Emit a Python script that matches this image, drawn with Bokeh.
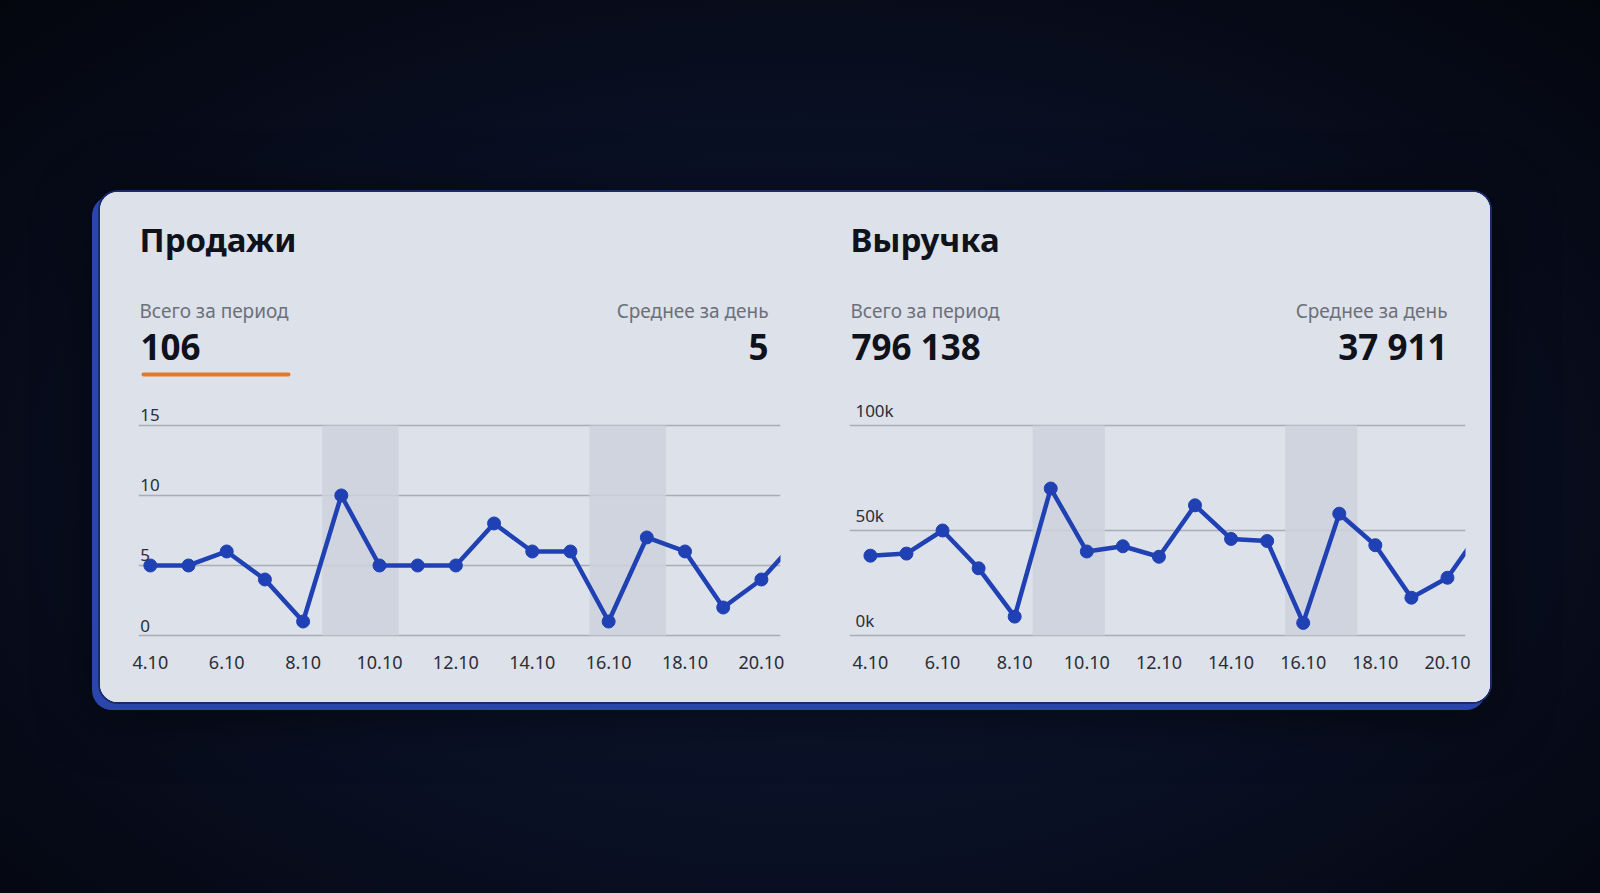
from bokeh.plotting import figure
from bokeh.models import (Label, BoxAnnotation, FixedTicker, Range1d, Spacer,
                          ColumnDataSource, GlobalInlineStyleSheet)
from bokeh.layouts import row, column
from bokeh.core.properties import value
from bokeh.embed import file_html
from bokeh.resources import INLINE

# ---------------- data ----------------
days = list(range(4, 22))                       # 4.10 ... 21.10
day_labels = [f"{d}.10" for d in days]
tick_days = days[:-1:2]                         # 4,6,...,20
sales = [5, 5, 6, 4, 1, 10, 5, 5, 5, 8, 6, 6, 1, 7, 6, 2, 4, 7]
revenue = [38000, 39000, 50000, 32000, 9000, 70000, 40000, 42500, 37500,
           62000, 46000, 45000, 6000, 58000, 43000, 18000, 27500, 52000]
weekend_start = [8.5, 15.5]
weekend_end = [10.5, 17.5]
sales_ticks = [0, 5, 10, 15]
sales_tick_labels = ["0", "5", "10", "15"]
rev_ticks = [0, 50000, 100000]
rev_tick_labels = ["0k", "50k", "100k"]

sales_title = "Продажи"
rev_title = "Выручка"
total_label = "Всего за период"
avg_label = "Среднее за день"
sales_total, sales_avg = "106", "5"
rev_total, rev_avg = "796 138", "37 911"

# ---------------- style ----------------
FONT = "Noto Sans"
CARD = "#dde1e9"
LINE = "#2041b4"
BAND = "#cdd1dc"
GRID = "#a9adb7"
DARK = "#0f121b"
GRAY = "#6c707b"
TICK = "#2b2e38"
HEADER_H = 208
CHART_H = 302


def header(width, mb_left, mb_right, title, total, avg, lx, right_x, underline=None):
    h = figure(width=width, height=HEADER_H,
               x_range=Range1d(mb_left, width - mb_right),
               y_range=Range1d(0, HEADER_H), toolbar_location=None,
               output_backend="svg", min_border_left=mb_left,
               min_border_right=mb_right, min_border_top=0, min_border_bottom=0)
    h.axis.visible = False
    h.grid.visible = False
    h.outline_line_color = None
    h.background_fill_color = CARD
    h.border_fill_color = CARD
    h.add_layout(Label(x=lx, y=161, text=title, text_font=FONT, text_font_style="bold",
                       text_font_size="33px", text_color=DARK, text_baseline="middle"))
    h.add_layout(Label(x=lx, y=90, text=total_label, text_font=FONT, text_font_size="19px",
                       text_color=GRAY, text_baseline="middle"))
    h.add_layout(Label(x=lx + 1, y=54, text=total, text_font=FONT, text_font_style="bold",
                       text_font_size="35px", text_color=DARK, text_baseline="middle"))
    h.add_layout(Label(x=right_x, y=90, text=avg_label, text_font=FONT, text_font_size="19px",
                       text_color=GRAY, text_baseline="middle", text_align="right"))
    h.add_layout(Label(x=right_x, y=54, text=avg, text_font=FONT, text_font_style="bold",
                       text_font_size="35px", text_color=DARK, text_baseline="middle",
                       text_align="right"))
    if underline:
        h.add_layout(BoxAnnotation(left=underline[0], right=underline[1], bottom=24, top=28,
                                   fill_color="#e5792b", fill_alpha=1, line_color=None,
                                   border_radius=2))
    return h


def chart(width, values, ticks, tick_labels, x_start, y_start, y_end, band_top,
          mb_left, mb_right, label_off):
    p = figure(width=width, height=CHART_H, toolbar_location=None, output_backend="svg",
               x_range=Range1d(x_start, 20.5), y_range=Range1d(y_start, y_end),
               min_border_left=mb_left, min_border_right=mb_right,
               min_border_top=0, min_border_bottom=65, y_axis_location=None)
    p.background_fill_color = CARD
    p.border_fill_color = CARD
    p.outline_line_color = None
    p.xgrid.visible = False
    p.ygrid.ticker = FixedTicker(ticks=ticks)
    p.ygrid.grid_line_color = GRID
    p.ygrid.grid_line_width = 1.5

    p.quad(left=weekend_start, right=weekend_end, bottom=0, top=band_top,
           fill_color=BAND, fill_alpha=0.85, line_color=None)

    src = ColumnDataSource(dict(x=days, y=values))
    p.line("x", "y", source=src, line_color=LINE, line_width=4.5, line_join="round")
    p.scatter("x", "y", source=src, size=13, fill_color=LINE, line_color=LINE)

    tsrc = ColumnDataSource(dict(x=[days[0]] * len(ticks), y=ticks, t=tick_labels))
    p.text("x", "y", text="t", source=tsrc, x_offset=label_off, y_offset=-4,
           text_baseline="bottom", text_align="left", text_font=value(FONT),
           text_font_size="17px", text_color=TICK)

    ax = p.xaxis[0]
    ax.ticker = FixedTicker(ticks=tick_days)
    ax.major_label_overrides = {d: day_labels[days.index(d)] for d in tick_days}
    ax.axis_line_color = None
    ax.major_tick_line_color = None
    ax.minor_tick_line_color = None
    ax.major_tick_out = 0
    ax.major_tick_in = 0
    ax.major_label_standoff = 18
    ax.major_label_text_font = FONT
    ax.major_label_text_font_size = "18px"
    ax.major_label_text_color = TICK
    return p


# left (sales): figure page x 100..815, frame 138..780
hL = header(715, 38, 35, sales_title, sales_total, sales_avg, 39, 668, underline=(41, 190))
cL = chart(715, sales, sales_ticks, sales_tick_labels,
           x_start=3.69, y_start=-0.142, y_end=16.78, band_top=15,
           mb_left=38, mb_right=35, label_off=-10)
# right (revenue): figure page x 815..1490, frame 849..1465
hR = header(675, 34, 25, rev_title, rev_total, rev_avg, 35, 632)
cR = chart(675, revenue, rev_ticks, rev_tick_labels,
           x_start=3.42, y_start=-952, y_end=111905, band_top=100000,
           mb_left=34, mb_right=25, label_off=-15)

card = row(column(hL, cL, styles={"background": CARD}),
           column(hR, cR, styles={"background": CARD}),
           styles={"border-radius": "18px", "overflow": "hidden", "background": CARD,
                   "box-shadow": "0 0 0 2px #1c2a6c, -6px 6px 0 2px #2a46ad, 0 10px 60px rgba(0,0,0,0.6)"})

root = column(Spacer(height=192, width=10), row(Spacer(width=100, height=10), card),
              width=1600, height=893,
              styles={"background": "radial-gradient(ellipse at 50% 55%, #111a36 0%, #0a1126 45%, #04060e 100%)"})
root.stylesheets = [GlobalInlineStyleSheet(css="html,body{background:#05070f;overflow:hidden;}")]

open("out.html", "w").write(file_html(root, INLINE))
